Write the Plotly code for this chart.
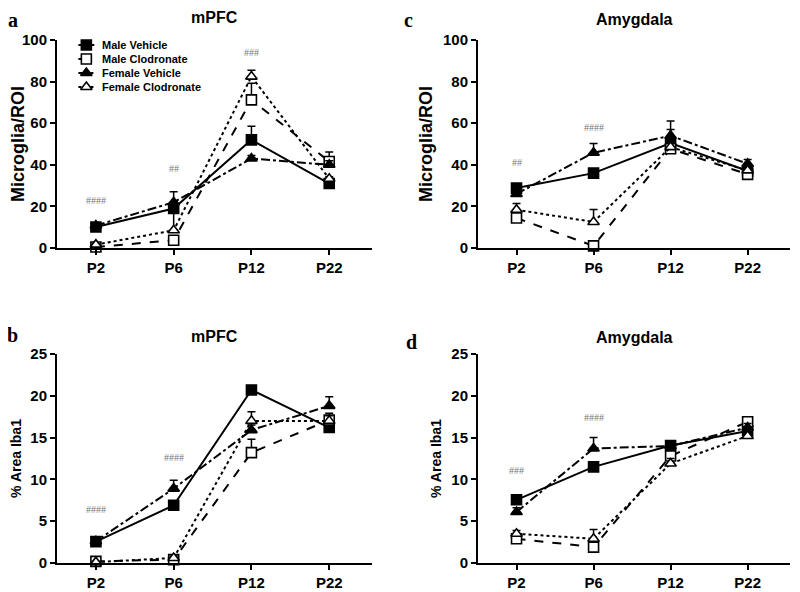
import plotly.graph_objects as go
from plotly.subplots import make_subplots

ages = ['P2', 'P6', 'P12', 'P22']
groups = ['Male Vehicle', 'Male Clodronate', 'Female Vehicle', 'Female Clodronate']

# panel a: mPFC, Microglia/ROI
mpfc_count = {
    'Male Vehicle': [10.1, 19.0, 52.0, 31.0],
    'Male Clodronate': [0.5, 3.7, 71.2, 41.6],
    'Female Vehicle': [10.8, 22.0, 43.0, 40.0],
    'Female Clodronate': [1.6, 8.5, 82.4, 33.3],
}
mpfc_count_err = {
    'Male Vehicle': [1.0, 2.0, 6.5, 2.0],
    'Male Clodronate': [0.5, 2.0, 8.0, 4.5],
    'Female Vehicle': [1.0, 5.0, 1.5, 2.0],
    'Female Clodronate': [0.5, 10.0, 3.0, 1.0],
}
# panel c: Amygdala, Microglia/ROI
amy_count = {
    'Male Vehicle': [28.8, 36.0, 50.4, 37.0],
    'Male Clodronate': [14.4, 1.0, 47.7, 35.4],
    'Female Vehicle': [26.0, 45.8, 54.0, 40.5],
    'Female Clodronate': [18.4, 12.5, 48.5, 37.3],
}
amy_count_err = {
    'Male Vehicle': [2.0, 2.0, 10.6, 2.0],
    'Male Clodronate': [1.0, 1.0, 2.0, 1.0],
    'Female Vehicle': [2.0, 4.5, 3.0, 2.0],
    'Female Clodronate': [3.0, 6.0, 2.0, 1.5],
}
# panel b: mPFC, % Area Iba1
mpfc_area = {
    'Male Vehicle': [2.56, 6.9, 20.7, 16.2],
    'Male Clodronate': [0.2, 0.4, 13.2, 17.1],
    'Female Vehicle': [2.6, 8.9, 15.9, 18.8],
    'Female Clodronate': [0.1, 0.6, 17.0, 17.0],
}
mpfc_area_err = {
    'Male Vehicle': [0.3, 0.3, 0.4, 0.4],
    'Male Clodronate': [0.1, 0.2, 1.6, 0.8],
    'Female Vehicle': [0.3, 1.0, 0.6, 1.1],
    'Female Clodronate': [0.1, 0.2, 1.1, 0.6],
}
# panel d: Amygdala, % Area Iba1
amy_area = {
    'Male Vehicle': [7.56, 11.5, 14.05, 15.8],
    'Male Clodronate': [2.9, 1.9, 12.8, 16.9],
    'Female Vehicle': [6.1, 13.7, 14.0, 16.2],
    'Female Clodronate': [3.5, 2.9, 11.9, 15.2],
}
amy_area_err = {
    'Male Vehicle': [0.5, 0.3, 0.4, 0.4],
    'Male Clodronate': [0.3, 0.3, 0.8, 0.4],
    'Female Vehicle': [0.5, 1.3, 0.4, 0.5],
    'Female Clodronate': [0.4, 1.1, 0.6, 0.4],
}

# significance marks: (age, height, text)
marks_a = [('P2', 23, '####'), ('P6', 38, '##'), ('P12', 94, '###')]
marks_c = [('P2', 41, '##'), ('P6', 58, '####')]
marks_b = [('P2', 6.4, '####'), ('P6', 12.6, '####')]
marks_d = [('P2', 11.1, '###'), ('P6', 17.4, '####')]

styles = {
    'Male Vehicle': dict(dash='solid', symbol='square', fill='black'),
    'Male Clodronate': dict(dash='dash', symbol='square', fill='white'),
    'Female Vehicle': dict(dash='dashdot', symbol='triangle-up', fill='black'),
    'Female Clodronate': dict(dash='dot', symbol='triangle-up', fill='white'),
}

# the page body adds an 8px margin, so the figure is 8px smaller and shifted
W, H, OFF = 792, 584, 8


def fx(p):
    return (p - OFF) / W


def fy(p):
    return 1 - (p - OFF) / H


fig = make_subplots(rows=2, cols=2)

panels = [
    (1, 1, mpfc_count, mpfc_count_err, marks_a),
    (1, 2, amy_count, amy_count_err, marks_c),
    (2, 1, mpfc_area, mpfc_area_err, marks_b),
    (2, 2, amy_area, amy_area_err, marks_d),
]

for r, c, vals, errs, marks in panels:
    for g in groups:
        st = styles[g]
        fig.add_trace(go.Scatter(
            x=ages, y=vals[g], name=g, mode='lines+markers',
            showlegend=False, cliponaxis=False,
            line=dict(color='black', width=2, dash=st['dash']),
            marker=dict(symbol=st['symbol'], size=10, color=st['fill'],
                        line=dict(color='black', width=1.6)),
            error_y=dict(type='data', array=errs[g], arrayminus=[0] * 4,
                         symmetric=False, color='black', thickness=1.5, width=4),
        ), row=r, col=c)
    for age, h, txt in marks:
        fig.add_annotation(x=age, y=h, text=txt, showarrow=False, row=r, col=c,
                           font=dict(family='Liberation Serif', size=10, color='#777777'))

# compact legend drawn on its own hidden axes
for i, g in enumerate(groups):
    st = styles[g]
    fig.add_trace(go.Scatter(
        x=[-0.7, 0.7], y=[i, i], mode='lines', xaxis='x5', yaxis='y5', showlegend=False,
        line=dict(color='black', width=2, dash=st['dash']), hoverinfo='skip'))
    fig.add_trace(go.Scatter(
        x=[0], y=[i], mode='markers', xaxis='x5', yaxis='y5', showlegend=False,
        marker=dict(symbol=st['symbol'], size=10, color=st['fill'],
                    line=dict(color='black', width=1.6)), hoverinfo='skip'))
    fig.add_annotation(x=1.2, y=i, xref='x5', yref='y5', text=g, showarrow=False,
                       xanchor='left', yanchor='middle',
                       font=dict(family='Liberation Sans, Arial', size=11, color='black',
                                 weight='bold'))

tick_font = dict(family='Liberation Sans, Arial', size=15, color='black', weight='bold')
title_font = dict(family='Liberation Sans, Arial', size=16, color='black', weight='bold')

xdom_l = [fx(57), fx(372)]
xdom_r = [fx(478), fx(790)]
ydom_t = [fy(248), fy(40)]
ydom_b = [fy(563), fy(354)]

doms = {1: (xdom_l, ydom_t), 2: (xdom_r, ydom_t), 3: (xdom_l, ydom_b), 4: (xdom_r, ydom_b)}
for i in range(1, 5):
    xd, yd = doms[i]
    xa = 'xaxis' if i == 1 else 'xaxis%d' % i
    ya = 'yaxis' if i == 1 else 'yaxis%d' % i
    fig.layout[xa].update(domain=xd, range=[-0.5, 3.55], showline=True, linecolor='black',
                          linewidth=2, ticks='outside', ticklen=5, tickwidth=2,
                          tickcolor='black', showgrid=False, zeroline=False,
                          tickfont=tick_font, automargin=False)
    top = 100 if i <= 2 else 25
    fig.layout[ya].update(domain=yd, range=[0, top], dtick=top / 5, showline=True,
                          linecolor='black', linewidth=2, ticks='outside', ticklen=5,
                          tickwidth=2, tickcolor='black', showgrid=False, zeroline=False,
                          tickfont=tick_font, automargin=False,
                          title=dict(text='Microglia/ROI' if i <= 2 else '% Area Iba1',
                                     font=dict(title_font, size=18 if i <= 2 else 14),
                                     standoff=6))

fig.update_layout(
    xaxis5=dict(domain=[fx(75), fx(200)], range=[-1, 10], visible=False,
                fixedrange=True, anchor='y5'),
    yaxis5=dict(domain=[fy(94), fy(38)], range=[3.5, -0.5], visible=False,
                fixedrange=True, anchor='x5'),
)

titles = [(214, 18, 'mPFC'), (634, 19, 'Amygdala'), (214, 336, 'mPFC'), (634, 337, 'Amygdala')]
for px, py, t in titles:
    fig.add_annotation(x=fx(px), y=fy(py), xref='paper', yref='paper', text=t,
                       showarrow=False, xanchor='center', yanchor='middle', font=title_font)

letter_font = dict(family='Liberation Serif', size=20, color='black', weight='bold')
# top-row letters sit against the top edge of the figure
for px, t in [(13, 'a'), (408, 'c')]:
    fig.add_annotation(x=fx(px), y=1, xref='paper', yref='paper', text=t,
                       showarrow=False, xanchor='center', yanchor='top', borderpad=0,
                       font=letter_font)
for px, py, t in [(12, 335, 'b'), (412, 342, 'd')]:
    fig.add_annotation(x=fx(px), y=fy(py), xref='paper', yref='paper', text=t,
                       showarrow=False, xanchor='center', yanchor='middle', font=letter_font)

fig.update_layout(
    width=W, height=H,
    margin=dict(l=0, r=0, t=0, b=0, autoexpand=False),
    plot_bgcolor='white', paper_bgcolor='white',
    showlegend=False,
)

fig.write_html('out.html')
